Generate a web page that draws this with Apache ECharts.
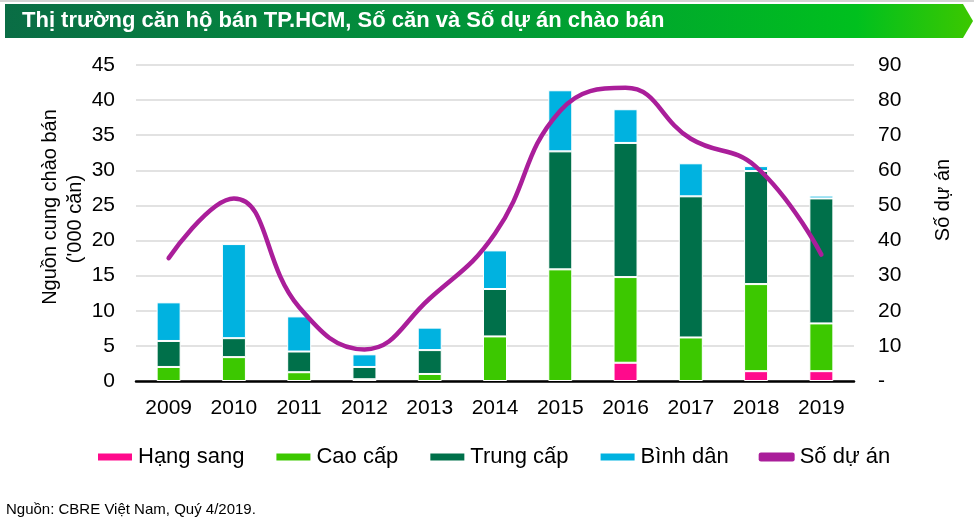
<!DOCTYPE html>
<html>
<head>
<meta charset="utf-8">
<script src="https://cdn.jsdelivr.net/npm/echarts@6/dist/echarts.min.js"></script>
<style>
html,body{margin:0;padding:0;background:#fff;}
#c{width:974px;height:527px;}
</style>
</head>
<body>
<div id="c"></div>
<script>
var years = ['2009','2010','2011','2012','2013','2014','2015','2016','2017','2018','2019'];
var hangSang = [0,0,0,0,0,0,0,2.6,0,1.4,1.4];
var caoCap = [2.0,3.4,1.25,0.25,1.0,6.35,15.9,12.2,6.2,12.4,6.8];
var trungCap = [3.7,2.7,2.95,1.75,3.4,6.75,16.8,19.1,20.1,16.1,17.8];
var binhDan = [5.5,13.4,5.0,1.8,3.2,5.5,8.7,4.8,4.7,0.7,0.4];
var soDuAn = [35,52,21,9,23.5,42,77,83.5,69,61,36];
var leftTicks = {min:0,max:45,interval:5};
var rightTicks = {min:0,max:90,interval:10};

var FONT = 'Liberation Sans, Arial, sans-serif';
var chart = echarts.init(document.getElementById('c'), null, {renderer:'canvas'});

function barSeries(name, data, color){
  return {
    name: name, type: 'bar', stack: 'total',
    data: data.map(function(v){ return v === 0 ? null : v; }),
    barWidth: 24,
    itemStyle: {color: color, borderColor: '#ffffff', borderWidth: 1},
    emphasis: {disabled: true}
  };
}

var option = {
  animation: false,
  textStyle: {fontFamily: FONT},
  grid: {left: 136, right: 120, top: 65, bottom: 146, containLabel: false},
  legend: {
    left: 91, top: 441, itemGap: 30, itemWidth: 36, itemHeight: 9,
    textStyle: {fontSize: 22, color: '#000', fontFamily: FONT},
    data: [
      {name:'Hạng sang', icon:'rect'},
      {name:'Cao cấp', icon:'rect'},
      {name:'Trung cấp', icon:'rect'},
      {name:'Bình dân', icon:'rect'},
      {name:'Số dự án', icon:'roundRect'}
    ]
  },
  xAxis: {
    type: 'category', data: years,
    axisLine: {lineStyle: {color: '#000', width: 2.5}},
    axisTick: {show: false},
    axisLabel: {fontSize: 21, color: '#000', margin: 17, fontFamily: FONT}
  },
  yAxis: [
    {
      type: 'value', min: leftTicks.min, max: leftTicks.max, interval: leftTicks.interval,
      axisLine: {show: false}, axisTick: {show: false},
      axisLabel: {fontSize: 21, color: '#000', margin: 21, fontFamily: FONT},
      splitLine: {lineStyle: {color: '#d9d9d9', width: 1.6}}
    },
    {
      type: 'value', min: rightTicks.min, max: rightTicks.max, interval: rightTicks.interval,
      axisLine: {show: false}, axisTick: {show: false},
      axisLabel: {fontSize: 21, color: '#000', margin: 24, fontFamily: FONT,
        formatter: function(v){ return v === 0 ? '-' : String(v); }},
      splitLine: {show: false}
    }
  ],
  series: [
    barSeries('Hạng sang', hangSang, '#ff0a8c'),
    barSeries('Cao cấp', caoCap, '#3cc800'),
    barSeries('Trung cấp', trungCap, '#00704a'),
    barSeries('Bình dân', binhDan, '#00b2e0'),
    {
      name: 'Số dự án', type: 'line', yAxisIndex: 1, data: soDuAn,
      smooth: 0.45, symbol: 'none',
      lineStyle: {color: '#aa1e9a', width: 4.5, cap: 'round'},
      itemStyle: {color: '#aa1e9a'},
      emphasis: {disabled: true}, z: 5
    }
  ],
  graphic: [
    {type:'rect', shape:{x:0,y:0,width:974,height:2}, style:{fill:'#d4d4d4'}, silent:true},
    {
      type: 'polygon',
      shape: {points: [[5,4],[963,4],[973,21],[963,38],[5,38]]},
      style: {
        fill: new echarts.graphic.LinearGradient(0,0,1,0,[
          {offset:0, color:'#0a6d45'},
          {offset:0.45, color:'#01923a'},
          {offset:0.88, color:'#00c01e'},
          {offset:1, color:'#3cc800'}
        ])
      },
      silent: true
    },
    {
      type: 'text', x: 22, y: 21,
      style: {text: 'Thị trường căn hộ bán TP.HCM, Số căn và Số dự án chào bán',
        fill: '#fff', font: 'bold 22px ' + FONT, textVerticalAlign: 'middle'},
      silent: true
    },
    {
      type: 'text', x: 50, y: 207, rotation: Math.PI/2,
      style: {text: 'Nguồn cung chào bán', fill: '#000', font: '20px ' + FONT,
        textAlign: 'center', textVerticalAlign: 'middle'},
      silent: true
    },
    {
      type: 'text', x: 75, y: 219, rotation: Math.PI/2,
      style: {text: "('000 căn)", fill: '#000', font: '20px ' + FONT,
        textAlign: 'center', textVerticalAlign: 'middle'},
      silent: true
    },
    {
      type: 'text', x: 943, y: 200, rotation: Math.PI/2,
      style: {text: 'Số dự án', fill: '#000', font: '20px ' + FONT,
        textAlign: 'center', textVerticalAlign: 'middle'},
      silent: true
    },
    {
      type: 'text', x: 6, y: 510,
      style: {text: 'Nguồn: CBRE Việt Nam, Quý 4/2019.', fill: '#000', font: '15px ' + FONT,
        textVerticalAlign: 'middle'},
      silent: true
    }
  ]
};
chart.setOption(option);
</script>
</body>
</html>
